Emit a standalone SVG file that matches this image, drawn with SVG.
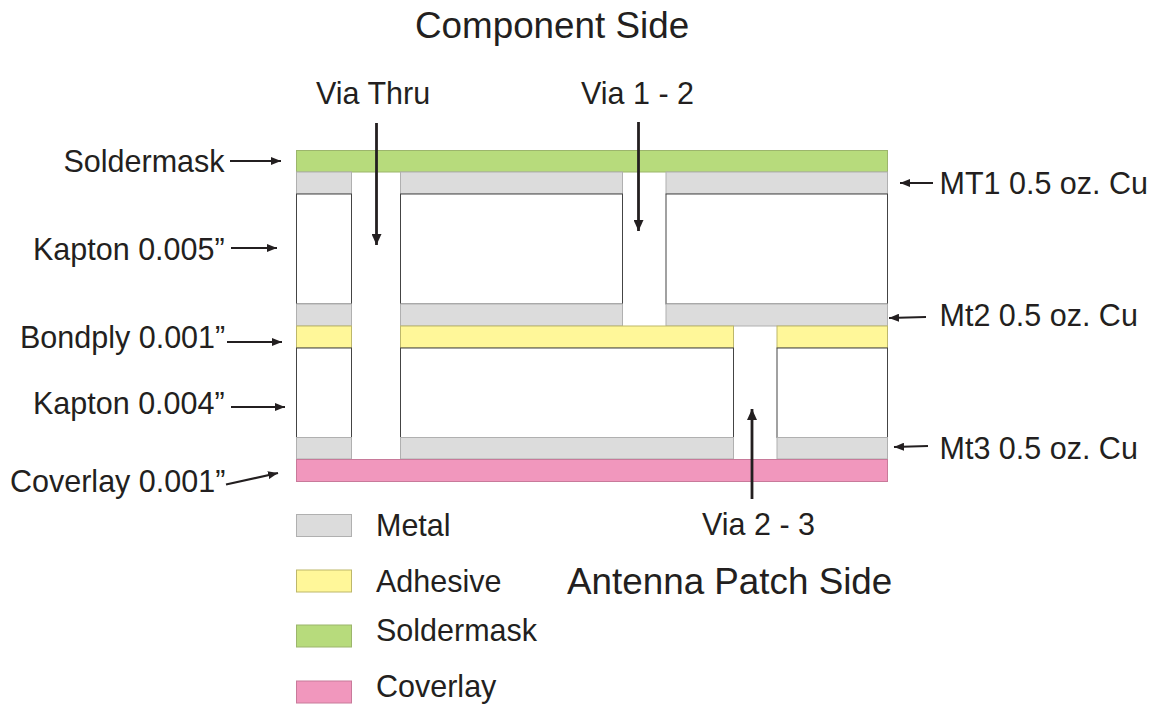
<svg xmlns="http://www.w3.org/2000/svg" width="1156" height="704" viewBox="0 0 1156 704">
<style>
text{font-family:"Liberation Sans",Arial,sans-serif;fill:#231f20;font-size:30.500px}
.big{font-size:36.800px}
.g{fill:#dcdcdc;stroke:#b0b0b0;stroke-width:1}
.y{fill:#fff799;stroke:#bdb76b;stroke-width:1}
.s{fill:#b7db7c;stroke:#9cb56c;stroke-width:1}
.p{fill:#f197bd;stroke:#c87a9a;stroke-width:1}
.k{fill:#fff;stroke:#444;stroke-width:1}
.a{stroke:#231f20;fill:none;stroke-width:2.200;marker-end:url(#ah)}
.b{stroke:#231f20;fill:none;stroke-width:2.800;marker-end:url(#ahb)}
</style>
<defs>
<marker id="ah" viewBox="0 0 10 8" refX="10" refY="4" markerUnits="userSpaceOnUse" markerWidth="10" markerHeight="8" orient="auto"><path d="M0 0L10 4L0 8z" fill="#231f20"/></marker>
<marker id="ahb" viewBox="0 0 11 10" refX="11" refY="5" markerUnits="userSpaceOnUse" markerWidth="11" markerHeight="10" orient="auto"><path d="M0 0L11 5L0 10z" fill="#231f20"/></marker>
</defs>
<rect width="1156" height="704" fill="#fff"/>
<g id="stackup">
<g id="soldermask-layer"><rect class="s" x="296.500" y="150.500" width="591" height="21.500"/></g>
<g id="mt1"><rect class="g" x="296.500" y="172" width="55" height="22"/><rect class="g" x="400.500" y="172" width="222" height="22"/><rect class="g" x="666" y="172" width="221.500" height="22"/></g>
<g id="kapton-005"><rect class="k" x="296.500" y="194" width="55" height="110"/><rect class="k" x="400.500" y="194" width="222" height="110"/><rect class="k" x="666" y="194" width="221.500" height="110"/></g>
<g id="mt2"><rect class="g" x="296.500" y="304" width="55" height="22"/><rect class="g" x="400.500" y="304" width="222" height="22"/><rect class="g" x="666" y="304" width="221.500" height="22"/></g>
<g id="bondply"><rect class="y" x="296.500" y="326" width="55" height="22"/><rect class="y" x="400.500" y="326" width="333" height="22"/><rect class="y" x="777" y="326" width="110.500" height="22"/></g>
<g id="kapton-004"><rect class="k" x="296.500" y="348" width="55" height="89.500"/><rect class="k" x="400.500" y="348" width="333" height="89.500"/><rect class="k" x="777" y="348" width="110.500" height="89.500"/></g>
<g id="mt3"><rect class="g" x="296.500" y="437.500" width="55" height="21.500"/><rect class="g" x="400.500" y="437.500" width="333" height="21.500"/><rect class="g" x="777" y="437.500" width="110.500" height="21.500"/></g>
<g id="coverlay-layer"><rect class="p" x="296.500" y="459.500" width="591" height="22"/></g>
</g>
<g id="connectors">
<path class="b" d="M376.500 123V245"/>
<path class="b" d="M638.500 122V231"/>
<path class="b" d="M752 499V409"/>
<path class="a" d="M230 161H281"/>
<path class="a" d="M231 248H277"/>
<path class="a" d="M227 342H282"/>
<path class="a" d="M231 407H285"/>
<path class="a" d="M226 484.500L278 473"/>
<path class="a" d="M933 183H900"/>
<path class="a" d="M926 317L889 318"/>
<path class="a" d="M928 446L894 447"/>
</g>
<g id="labels">
<text class="big" x="415" y="38">Component Side</text>
<text x="316" y="104">Via Thru</text>
<text x="581" y="104">Via 1 - 2</text>
<text x="63.500" y="172">Soldermask</text>
<text x="33" y="260">Kapton 0.005”</text>
<text x="20" y="348">Bondply 0.001”</text>
<text x="33" y="414">Kapton 0.004”</text>
<text x="10" y="492">Coverlay 0.001”</text>
<text x="939.500" y="194">MT1 0.5 oz. Cu</text>
<text x="939.500" y="326">Mt2 0.5 oz. Cu</text>
<text x="939.500" y="459">Mt3 0.5 oz. Cu</text>
<text x="702" y="535">Via 2 - 3</text>
<text class="big" x="567" y="594">Antenna Patch Side</text>
</g>
<g id="legend-metal"><rect class="g" x="296.500" y="514.500" width="55" height="22"/><text x="376" y="536">Metal</text></g>
<g id="legend-adhesive"><rect class="y" x="296.500" y="570" width="55" height="22"/><text x="376" y="592">Adhesive</text></g>
<g id="legend-soldermask"><rect class="s" x="296.500" y="625" width="55" height="22"/><text x="376" y="641">Soldermask</text></g>
<g id="legend-coverlay"><rect class="p" x="296.500" y="681" width="55" height="22"/><text x="376" y="697">Coverlay</text></g>
</svg>
